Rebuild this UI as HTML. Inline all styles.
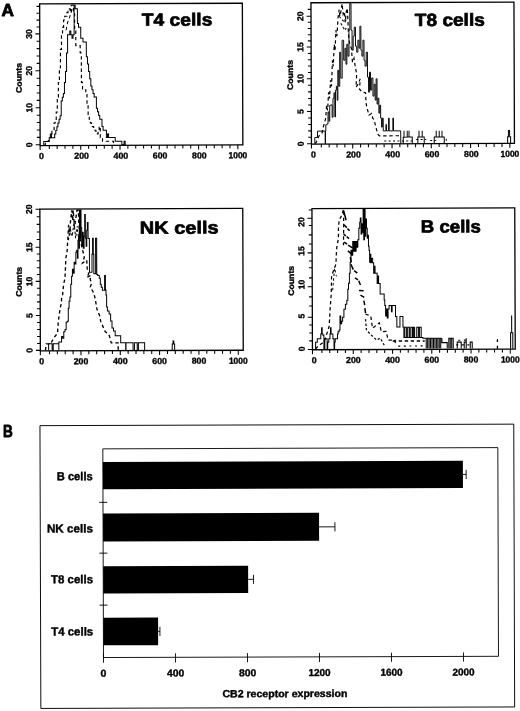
<!DOCTYPE html>
<html lang="en">
<head>
<meta charset="utf-8">
<title>CB2 receptor expression in lymphocyte subsets</title>
<style>
html,body{margin:0;padding:0;background:#fff;}
body{width:520px;height:711px;overflow:hidden;}
svg{display:block;}
</style>
</head>
<body>
<svg width="520" height="711" viewBox="0 0 520 711" font-family='"Liberation Sans", "DejaVu Sans", sans-serif' fill="#000" stroke="#000">
<rect x="0" y="0" width="520" height="711" fill="#fff" stroke="none"/>
<text stroke="#000" stroke-width="0.8" stroke-linejoin="round" x="1.4" y="15.6" font-size="17.2" text-anchor="start" font-weight="bold">A</text>
<text stroke="#000" stroke-width="0.8" stroke-linejoin="round" x="3" y="437" font-size="16.6" text-anchor="start" font-weight="bold" textLength="9.8" lengthAdjust="spacingAndGlyphs">B</text>
<g transform="rotate(-0.2 141 74)">
<rect x="39.9" y="3.6" width="202.7" height="141.6" fill="none" stroke-width="1.3"/>
<line x1="39.9" y1="145.2" x2="39.9" y2="149.6" stroke-width="1.05"/>
<line x1="49.06" y1="145.2" x2="49.06" y2="148.6" stroke-width="1.05"/>
<line x1="56.91" y1="145.2" x2="56.91" y2="148.6" stroke-width="1.05"/>
<line x1="64.77" y1="145.2" x2="64.77" y2="148.6" stroke-width="1.05"/>
<line x1="72.62" y1="145.2" x2="72.62" y2="148.6" stroke-width="1.05"/>
<line x1="80.48" y1="145.2" x2="80.48" y2="149.6" stroke-width="1.05"/>
<line x1="88.34" y1="145.2" x2="88.34" y2="148.6" stroke-width="1.05"/>
<line x1="96.19" y1="145.2" x2="96.19" y2="148.6" stroke-width="1.05"/>
<line x1="104.05" y1="145.2" x2="104.05" y2="148.6" stroke-width="1.05"/>
<line x1="111.9" y1="145.2" x2="111.9" y2="148.6" stroke-width="1.05"/>
<line x1="119.76" y1="145.2" x2="119.76" y2="149.6" stroke-width="1.05"/>
<line x1="127.62" y1="145.2" x2="127.62" y2="148.6" stroke-width="1.05"/>
<line x1="135.47" y1="145.2" x2="135.47" y2="148.6" stroke-width="1.05"/>
<line x1="143.33" y1="145.2" x2="143.33" y2="148.6" stroke-width="1.05"/>
<line x1="151.18" y1="145.2" x2="151.18" y2="148.6" stroke-width="1.05"/>
<line x1="159.04" y1="145.2" x2="159.04" y2="149.6" stroke-width="1.05"/>
<line x1="166.9" y1="145.2" x2="166.9" y2="148.6" stroke-width="1.05"/>
<line x1="174.75" y1="145.2" x2="174.75" y2="148.6" stroke-width="1.05"/>
<line x1="182.61" y1="145.2" x2="182.61" y2="148.6" stroke-width="1.05"/>
<line x1="190.46" y1="145.2" x2="190.46" y2="148.6" stroke-width="1.05"/>
<line x1="198.32" y1="145.2" x2="198.32" y2="149.6" stroke-width="1.05"/>
<line x1="206.18" y1="145.2" x2="206.18" y2="148.6" stroke-width="1.05"/>
<line x1="214.03" y1="145.2" x2="214.03" y2="148.6" stroke-width="1.05"/>
<line x1="221.89" y1="145.2" x2="221.89" y2="148.6" stroke-width="1.05"/>
<line x1="229.74" y1="145.2" x2="229.74" y2="148.6" stroke-width="1.05"/>
<line x1="237.6" y1="145.2" x2="237.6" y2="149.6" stroke-width="1.05"/>
<text stroke="#000" stroke-width="0.35" stroke-linejoin="round" x="41.2" y="158.6" font-size="8.7" text-anchor="middle" font-weight="bold" textLength="4.9" lengthAdjust="spacingAndGlyphs">0</text>
<text stroke="#000" stroke-width="0.35" stroke-linejoin="round" x="81.28" y="158.6" font-size="8.7" text-anchor="middle" font-weight="bold" textLength="14.6" lengthAdjust="spacingAndGlyphs">200</text>
<text stroke="#000" stroke-width="0.35" stroke-linejoin="round" x="120.56" y="158.6" font-size="8.7" text-anchor="middle" font-weight="bold" textLength="14.8" lengthAdjust="spacingAndGlyphs">400</text>
<text stroke="#000" stroke-width="0.35" stroke-linejoin="round" x="159.84" y="158.6" font-size="8.7" text-anchor="middle" font-weight="bold" textLength="14.6" lengthAdjust="spacingAndGlyphs">600</text>
<text stroke="#000" stroke-width="0.35" stroke-linejoin="round" x="199.12" y="158.6" font-size="8.7" text-anchor="middle" font-weight="bold" textLength="14.6" lengthAdjust="spacingAndGlyphs">800</text>
<text stroke="#000" stroke-width="0.35" stroke-linejoin="round" x="237.6" y="158.6" font-size="8.7" text-anchor="middle" font-weight="bold" textLength="18.8" lengthAdjust="spacingAndGlyphs">1000</text>
<line x1="35.5" y1="144.4" x2="39.9" y2="144.4" stroke-width="1.05"/>
<text stroke="#000" stroke-width="0.35" stroke-linejoin="round" x="32.1" y="144.4" font-size="8.6" text-anchor="middle" font-weight="bold" transform="rotate(-90 32.1 144.4)">0</text>
<line x1="36.7" y1="137" x2="39.9" y2="137" stroke-width="1.05"/>
<line x1="36.7" y1="129.6" x2="39.9" y2="129.6" stroke-width="1.05"/>
<line x1="36.7" y1="122.2" x2="39.9" y2="122.2" stroke-width="1.05"/>
<line x1="36.7" y1="114.8" x2="39.9" y2="114.8" stroke-width="1.05"/>
<line x1="35.5" y1="107.4" x2="39.9" y2="107.4" stroke-width="1.05"/>
<text stroke="#000" stroke-width="0.35" stroke-linejoin="round" x="32.1" y="107.4" font-size="8.6" text-anchor="middle" font-weight="bold" transform="rotate(-90 32.1 107.4)">10</text>
<line x1="36.7" y1="100" x2="39.9" y2="100" stroke-width="1.05"/>
<line x1="36.7" y1="92.6" x2="39.9" y2="92.6" stroke-width="1.05"/>
<line x1="36.7" y1="85.2" x2="39.9" y2="85.2" stroke-width="1.05"/>
<line x1="36.7" y1="77.8" x2="39.9" y2="77.8" stroke-width="1.05"/>
<line x1="35.5" y1="70.4" x2="39.9" y2="70.4" stroke-width="1.05"/>
<text stroke="#000" stroke-width="0.35" stroke-linejoin="round" x="32.1" y="70.4" font-size="8.6" text-anchor="middle" font-weight="bold" transform="rotate(-90 32.1 70.4)">20</text>
<line x1="36.7" y1="63.02" x2="39.9" y2="63.02" stroke-width="1.05"/>
<line x1="36.7" y1="55.64" x2="39.9" y2="55.64" stroke-width="1.05"/>
<line x1="36.7" y1="48.26" x2="39.9" y2="48.26" stroke-width="1.05"/>
<line x1="36.7" y1="40.88" x2="39.9" y2="40.88" stroke-width="1.05"/>
<line x1="35.5" y1="33.5" x2="39.9" y2="33.5" stroke-width="1.05"/>
<text stroke="#000" stroke-width="0.35" stroke-linejoin="round" x="32.1" y="33.5" font-size="8.6" text-anchor="middle" font-weight="bold" transform="rotate(-90 32.1 33.5)">30</text>
<line x1="36.7" y1="26.62" x2="39.9" y2="26.62" stroke-width="1.05"/>
<line x1="36.7" y1="19.75" x2="39.9" y2="19.75" stroke-width="1.05"/>
<line x1="36.7" y1="12.88" x2="39.9" y2="12.88" stroke-width="1.05"/>
<line x1="36.7" y1="6" x2="39.9" y2="6" stroke-width="1.05"/>
<text stroke="#000" stroke-width="0.4" stroke-linejoin="round" x="21.6" y="77.5" font-size="8.1" text-anchor="middle" font-weight="bold" textLength="30" lengthAdjust="spacingAndGlyphs" transform="rotate(-90 21.6 77.5)">Counts</text>
<text stroke="#000" stroke-width="0.7" stroke-linejoin="round" x="142" y="25.8" font-size="17.6" text-anchor="start" font-weight="bold" textLength="70.5" lengthAdjust="spacingAndGlyphs">T4 cells</text>
<path d="M43.5 144.8V141.12H44.6V141.12H45.7V141.12H46.8V141.12H47.9V141.12H49V137.44H50.1V133.76H51.2V137.44H52.3V137.44H53.4V137.44H54.5V133.76H55.6V130.08H56.7V126.4H57.8V122.72H58.9V119.04H60V115.36H61.1V100.64H62.2V96.96H63.3V93.28H64.4V82.24H65.5V71.2H66.6V52.8H67.7V34.4H68.8V34.4H69.9V30.72H71V34.4H72.1V38.08H73.2V34.4H74.3V4.96H75.4V8.64H76.5V8.64H77.6V23.36H78.7V27.04H79.8V27.04H80.9V38.08H82V38.08H83.1V41.76H84.2V41.76H85.3V41.76H86.4V56.48H87.5V63.84H88.6V71.2H89.7V78.56H90.8V85.92H91.9V89.6H93V93.28H94.1V96.96H95.2V96.96H96.3V108H97.4V111.68H98.5V115.36H99.6V119.04H100.7V119.04H101.8V126.4H102.9V130.08H104V130.08H105.1V130.08H106.2V137.44H107.3V133.76H108.4V137.44H109.5V137.44H110.6V137.44H111.7V137.44H112.8V137.44H113.9V137.44H115V141.12H116.1V141.12H117.2V141.12H118.3V141.12H119.4V141.12H120.5V141.12H121.6V144.8H122.7V144.8H123.8V141.12H124.9V144.8H125.6V144.8" fill="none" stroke-width="1"/>
<path d="M44 144.8V144.8H45.1V141.12H46.2V141.12H47.3V141.12H48.4V137.44H49.5V137.44H50.6V133.76H51.7V130.08H52.8V130.08H53.9V122.72H55V119.04H56.1V111.68H57.2V96.96H58.3V82.24H59.4V67.52H60.5V49.12H61.6V34.4H62.7V27.04H63.8V19.68H64.9V16H66V16H67.1V12.32H68.2V8.64H69.3V8.64H70.4V12.32H71.5V4.96H72.6V4.96H73.7V12.32H74.8V30.72H75.9V45.44H77V45.44H78.1V45.44H79.2V45.44H80.3V52.8H81.4V82.24H82.5V89.6H83.6V89.6H84.7V89.6H85.8V93.28H86.9V104.32H88V115.36H89.1V119.04H90.2V122.72H91.3V126.4H92.4V126.4H93.5V130.08H94.6V130.08H95.7V133.76H96.8V133.76H97.9V130.08H99V126.4H100.1V137.44H101.2V137.44H102.3V141.12H103.4V141.12H104.5V141.12H105.6V141.12H106.7V141.12H107.8V141.12H108.9V141.12H110V141.12H111.1V141.12H112.2V141.12H113.3V144.8H114.4V144.8H114.4V144.8" fill="none" stroke-width="1.15" stroke-dasharray="3.4 2.8"/>
<path d="M66.2 30L67.7 22.5L70.3 15.6L72.9 7" fill="none" stroke-width="1" stroke-dasharray="3.4 2.8"/>
</g>
<g transform="rotate(-0.2 412 73)">
<rect x="311.2" y="2.4" width="203" height="141.4" fill="none" stroke-width="1.3"/>
<line x1="311.2" y1="143.8" x2="311.2" y2="148.2" stroke-width="1.05"/>
<line x1="321.06" y1="143.8" x2="321.06" y2="147.2" stroke-width="1.05"/>
<line x1="328.91" y1="143.8" x2="328.91" y2="147.2" stroke-width="1.05"/>
<line x1="336.77" y1="143.8" x2="336.77" y2="147.2" stroke-width="1.05"/>
<line x1="344.62" y1="143.8" x2="344.62" y2="147.2" stroke-width="1.05"/>
<line x1="352.48" y1="143.8" x2="352.48" y2="148.2" stroke-width="1.05"/>
<line x1="360.34" y1="143.8" x2="360.34" y2="147.2" stroke-width="1.05"/>
<line x1="368.19" y1="143.8" x2="368.19" y2="147.2" stroke-width="1.05"/>
<line x1="376.05" y1="143.8" x2="376.05" y2="147.2" stroke-width="1.05"/>
<line x1="383.9" y1="143.8" x2="383.9" y2="147.2" stroke-width="1.05"/>
<line x1="391.76" y1="143.8" x2="391.76" y2="148.2" stroke-width="1.05"/>
<line x1="399.62" y1="143.8" x2="399.62" y2="147.2" stroke-width="1.05"/>
<line x1="407.47" y1="143.8" x2="407.47" y2="147.2" stroke-width="1.05"/>
<line x1="415.33" y1="143.8" x2="415.33" y2="147.2" stroke-width="1.05"/>
<line x1="423.18" y1="143.8" x2="423.18" y2="147.2" stroke-width="1.05"/>
<line x1="431.04" y1="143.8" x2="431.04" y2="148.2" stroke-width="1.05"/>
<line x1="438.9" y1="143.8" x2="438.9" y2="147.2" stroke-width="1.05"/>
<line x1="446.75" y1="143.8" x2="446.75" y2="147.2" stroke-width="1.05"/>
<line x1="454.61" y1="143.8" x2="454.61" y2="147.2" stroke-width="1.05"/>
<line x1="462.46" y1="143.8" x2="462.46" y2="147.2" stroke-width="1.05"/>
<line x1="470.32" y1="143.8" x2="470.32" y2="148.2" stroke-width="1.05"/>
<line x1="478.18" y1="143.8" x2="478.18" y2="147.2" stroke-width="1.05"/>
<line x1="486.03" y1="143.8" x2="486.03" y2="147.2" stroke-width="1.05"/>
<line x1="493.89" y1="143.8" x2="493.89" y2="147.2" stroke-width="1.05"/>
<line x1="501.74" y1="143.8" x2="501.74" y2="147.2" stroke-width="1.05"/>
<line x1="509.6" y1="143.8" x2="509.6" y2="148.2" stroke-width="1.05"/>
<text stroke="#000" stroke-width="0.35" stroke-linejoin="round" x="313.2" y="157.2" font-size="8.7" text-anchor="middle" font-weight="bold" textLength="4.9" lengthAdjust="spacingAndGlyphs">0</text>
<text stroke="#000" stroke-width="0.35" stroke-linejoin="round" x="353.18" y="157.2" font-size="8.7" text-anchor="middle" font-weight="bold" textLength="14.6" lengthAdjust="spacingAndGlyphs">200</text>
<text stroke="#000" stroke-width="0.35" stroke-linejoin="round" x="392.46" y="157.2" font-size="8.7" text-anchor="middle" font-weight="bold" textLength="14.8" lengthAdjust="spacingAndGlyphs">400</text>
<text stroke="#000" stroke-width="0.35" stroke-linejoin="round" x="431.74" y="157.2" font-size="8.7" text-anchor="middle" font-weight="bold" textLength="14.6" lengthAdjust="spacingAndGlyphs">600</text>
<text stroke="#000" stroke-width="0.35" stroke-linejoin="round" x="471.02" y="157.2" font-size="8.7" text-anchor="middle" font-weight="bold" textLength="14.6" lengthAdjust="spacingAndGlyphs">800</text>
<text stroke="#000" stroke-width="0.35" stroke-linejoin="round" x="509.6" y="157.2" font-size="8.7" text-anchor="middle" font-weight="bold" textLength="18.8" lengthAdjust="spacingAndGlyphs">1000</text>
<line x1="306.8" y1="143.4" x2="311.2" y2="143.4" stroke-width="1.05"/>
<text stroke="#000" stroke-width="0.35" stroke-linejoin="round" x="303.4" y="143.4" font-size="8.6" text-anchor="middle" font-weight="bold" transform="rotate(-90 303.4 143.4)">0</text>
<line x1="308" y1="136.96" x2="311.2" y2="136.96" stroke-width="1.05"/>
<line x1="308" y1="130.52" x2="311.2" y2="130.52" stroke-width="1.05"/>
<line x1="308" y1="124.08" x2="311.2" y2="124.08" stroke-width="1.05"/>
<line x1="308" y1="117.64" x2="311.2" y2="117.64" stroke-width="1.05"/>
<line x1="306.8" y1="111.2" x2="311.2" y2="111.2" stroke-width="1.05"/>
<text stroke="#000" stroke-width="0.35" stroke-linejoin="round" x="303.4" y="111.2" font-size="8.6" text-anchor="middle" font-weight="bold" transform="rotate(-90 303.4 111.2)">5</text>
<line x1="308" y1="104.64" x2="311.2" y2="104.64" stroke-width="1.05"/>
<line x1="308" y1="98.08" x2="311.2" y2="98.08" stroke-width="1.05"/>
<line x1="308" y1="91.52" x2="311.2" y2="91.52" stroke-width="1.05"/>
<line x1="308" y1="84.96" x2="311.2" y2="84.96" stroke-width="1.05"/>
<line x1="306.8" y1="78.4" x2="311.2" y2="78.4" stroke-width="1.05"/>
<text stroke="#000" stroke-width="0.35" stroke-linejoin="round" x="303.4" y="78.4" font-size="8.6" text-anchor="middle" font-weight="bold" transform="rotate(-90 303.4 78.4)">10</text>
<line x1="308" y1="72.06" x2="311.2" y2="72.06" stroke-width="1.05"/>
<line x1="308" y1="65.72" x2="311.2" y2="65.72" stroke-width="1.05"/>
<line x1="308" y1="59.38" x2="311.2" y2="59.38" stroke-width="1.05"/>
<line x1="308" y1="53.04" x2="311.2" y2="53.04" stroke-width="1.05"/>
<line x1="306.8" y1="46.7" x2="311.2" y2="46.7" stroke-width="1.05"/>
<text stroke="#000" stroke-width="0.35" stroke-linejoin="round" x="303.4" y="46.7" font-size="8.6" text-anchor="middle" font-weight="bold" transform="rotate(-90 303.4 46.7)">15</text>
<line x1="308" y1="40.52" x2="311.2" y2="40.52" stroke-width="1.05"/>
<line x1="308" y1="34.34" x2="311.2" y2="34.34" stroke-width="1.05"/>
<line x1="308" y1="28.16" x2="311.2" y2="28.16" stroke-width="1.05"/>
<line x1="308" y1="21.98" x2="311.2" y2="21.98" stroke-width="1.05"/>
<line x1="306.8" y1="15.8" x2="311.2" y2="15.8" stroke-width="1.05"/>
<text stroke="#000" stroke-width="0.35" stroke-linejoin="round" x="303.4" y="15.8" font-size="8.6" text-anchor="middle" font-weight="bold" transform="rotate(-90 303.4 15.8)">20</text>
<line x1="308" y1="9" x2="311.2" y2="9" stroke-width="1.05"/>
<text stroke="#000" stroke-width="0.4" stroke-linejoin="round" x="292.9" y="74.6" font-size="8.1" text-anchor="middle" font-weight="bold" textLength="30" lengthAdjust="spacingAndGlyphs" transform="rotate(-90 292.9 74.6)">Counts</text>
<text stroke="#000" stroke-width="0.7" stroke-linejoin="round" x="415" y="26" font-size="17.6" text-anchor="start" font-weight="bold" textLength="70" lengthAdjust="spacingAndGlyphs">T8 cells</text>
<path d="M314.6 143.5V137.1H317.3V130.8H325.1V143.5V130.8H325.65V124.4H326.2H326.75V123.6H327.3H327.85V111.6H328.4H328.8V121H329.2H329.6V105H330H330.8V104.6H331.6H332V117H332.4H332.9V98H333.4H333.9V92.5H334.4H334.7V116.7H335H335.4V90H335.8H336.3V86H336.8H337.1V100H337.4H337.8V70H338.2H338.7V86H339.2H339.7V52H340.2H340.8V78H341.4H342.2V40H343H343.75V60H344.5H345.05V48H345.6H346V64H346.4H346.9V44H347.4H348V56H348.6H349.1V30H349.6H350V3.4H350.4H350.9H351.25V30H351.6H352.2V50H352.8H353.3V36H353.8H354.4V27H355H355.6V46H356.2H356.8V52H357.4H358V40H358.6H359.1V48H359.6H360.05V26H360.5H361V50H361.5H362V56H362.5H363.05V40H363.6H364.1V60H364.6H365.1V66H365.6H366.3V52H367H367.5V77H368H368.5V92H369H369.5V72H370H370.5V90H371H371.65V77.8H372.3H372.9V96H373.5H374.05V84H374.6H375.1V100H375.6H376.1V78.6H376.6H377V104H377.4H377.85V98H378.3H378.75V113H379.2H379.6V105H380H380.5V118H381H381.4V127H381.8H382.2V118H382.6H383.05V130.8H383.5H385.5H385.75V124.4H386H386.3V130.8H386.6H388.2H388.45V118H388.7H389V130.8H389.3H392.4H392.7V118H393H393.3V130.8H393.6H400.5V143.5" fill="none" stroke-width="0.95"/>
<path d="M315.2 143.5L318.7 135.7L322 132.3L323 127L324 124L325.5 118L326.5 105L327.5 110L328.5 92L329.5 98L330.5 80L331.5 86L332.5 60L333.3 66L334.3 44L335.2 50L336 30L337 36L338.3 17.3L339.4 9.2L340 16L341 12L342.3 3.5L343.4 14L344.6 11.5L345.4 22L346.4 12L347.5 8L348 17.3L348.6 34.6L349.8 43.8L351.5 48.4L352.5 62L354 58L355.5 68L356.7 73.5L356 87L358 84L360.2 78.7L359.5 89L362 92L365.4 92.5L365.8 100L366.2 104.6L367.5 110L368.8 115L371.4 113.3L372.6 118L374 120L375.7 127L377.5 134L379.2 135.7L400 135.7" fill="none" stroke-width="1.2" stroke-dasharray="3.4 2.8"/>
<path d="M339.4 16L342 19L344.6 22L346.4 19.5L348 17.3" fill="none" stroke-width="1.05" stroke-dasharray="2.4 2"/>
<path d="M341 23L343.2 27L345.2 30L346.3 27.7" fill="none" stroke-width="1.05" stroke-dasharray="2.4 2"/>
<path d="M403 143.5V137.1H403.8V130.8V137.1H407V130.8V137.1H408.8V130.8V137.1H412V143.5M417.6 143.5V137.1H418.8V130.8V137.1H422V130.8V137.1H424V143.5M434 143.5V137.1H436V130.8V137.1H439V130.8V137.1H441.8V130.8V137.1H444V143.5M507.4 143.5V137.1H508.2V130.8H509.4V137.1H510.4V143.5" fill="none" stroke-width="1"/>
<path d="M384 141H412M416 139.5H426M430 140.5H436M446 138.8V143" fill="none" stroke-width="1" stroke-dasharray="2 2.4"/>
</g>
<g transform="rotate(-0.2 141 280)">
<rect x="40.1" y="208.8" width="202.9" height="141.8" fill="none" stroke-width="1.3"/>
<line x1="40.1" y1="350.6" x2="40.1" y2="355" stroke-width="1.05"/>
<line x1="49.26" y1="350.6" x2="49.26" y2="354" stroke-width="1.05"/>
<line x1="57.13" y1="350.6" x2="57.13" y2="354" stroke-width="1.05"/>
<line x1="64.99" y1="350.6" x2="64.99" y2="354" stroke-width="1.05"/>
<line x1="72.86" y1="350.6" x2="72.86" y2="354" stroke-width="1.05"/>
<line x1="80.72" y1="350.6" x2="80.72" y2="355" stroke-width="1.05"/>
<line x1="88.58" y1="350.6" x2="88.58" y2="354" stroke-width="1.05"/>
<line x1="96.45" y1="350.6" x2="96.45" y2="354" stroke-width="1.05"/>
<line x1="104.31" y1="350.6" x2="104.31" y2="354" stroke-width="1.05"/>
<line x1="112.18" y1="350.6" x2="112.18" y2="354" stroke-width="1.05"/>
<line x1="120.04" y1="350.6" x2="120.04" y2="355" stroke-width="1.05"/>
<line x1="127.9" y1="350.6" x2="127.9" y2="354" stroke-width="1.05"/>
<line x1="135.77" y1="350.6" x2="135.77" y2="354" stroke-width="1.05"/>
<line x1="143.63" y1="350.6" x2="143.63" y2="354" stroke-width="1.05"/>
<line x1="151.5" y1="350.6" x2="151.5" y2="354" stroke-width="1.05"/>
<line x1="159.36" y1="350.6" x2="159.36" y2="355" stroke-width="1.05"/>
<line x1="167.22" y1="350.6" x2="167.22" y2="354" stroke-width="1.05"/>
<line x1="175.09" y1="350.6" x2="175.09" y2="354" stroke-width="1.05"/>
<line x1="182.95" y1="350.6" x2="182.95" y2="354" stroke-width="1.05"/>
<line x1="190.82" y1="350.6" x2="190.82" y2="354" stroke-width="1.05"/>
<line x1="198.68" y1="350.6" x2="198.68" y2="355" stroke-width="1.05"/>
<line x1="206.54" y1="350.6" x2="206.54" y2="354" stroke-width="1.05"/>
<line x1="214.41" y1="350.6" x2="214.41" y2="354" stroke-width="1.05"/>
<line x1="222.27" y1="350.6" x2="222.27" y2="354" stroke-width="1.05"/>
<line x1="230.14" y1="350.6" x2="230.14" y2="354" stroke-width="1.05"/>
<line x1="238" y1="350.6" x2="238" y2="355" stroke-width="1.05"/>
<text stroke="#000" stroke-width="0.35" stroke-linejoin="round" x="41.4" y="364" font-size="8.7" text-anchor="middle" font-weight="bold" textLength="4.9" lengthAdjust="spacingAndGlyphs">0</text>
<text stroke="#000" stroke-width="0.35" stroke-linejoin="round" x="80.72" y="364" font-size="8.7" text-anchor="middle" font-weight="bold" textLength="14.6" lengthAdjust="spacingAndGlyphs">200</text>
<text stroke="#000" stroke-width="0.35" stroke-linejoin="round" x="120.04" y="364" font-size="8.7" text-anchor="middle" font-weight="bold" textLength="14.8" lengthAdjust="spacingAndGlyphs">400</text>
<text stroke="#000" stroke-width="0.35" stroke-linejoin="round" x="159.36" y="364" font-size="8.7" text-anchor="middle" font-weight="bold" textLength="14.6" lengthAdjust="spacingAndGlyphs">600</text>
<text stroke="#000" stroke-width="0.35" stroke-linejoin="round" x="198.68" y="364" font-size="8.7" text-anchor="middle" font-weight="bold" textLength="14.6" lengthAdjust="spacingAndGlyphs">800</text>
<text stroke="#000" stroke-width="0.35" stroke-linejoin="round" x="238" y="364" font-size="8.7" text-anchor="middle" font-weight="bold" textLength="18.8" lengthAdjust="spacingAndGlyphs">1000</text>
<line x1="35.7" y1="350" x2="40.1" y2="350" stroke-width="1.05"/>
<text stroke="#000" stroke-width="0.35" stroke-linejoin="round" x="32.3" y="350" font-size="8.6" text-anchor="middle" font-weight="bold" transform="rotate(-90 32.3 350)">0</text>
<line x1="36.9" y1="343.04" x2="40.1" y2="343.04" stroke-width="1.05"/>
<line x1="36.9" y1="336.08" x2="40.1" y2="336.08" stroke-width="1.05"/>
<line x1="36.9" y1="329.12" x2="40.1" y2="329.12" stroke-width="1.05"/>
<line x1="36.9" y1="322.16" x2="40.1" y2="322.16" stroke-width="1.05"/>
<line x1="35.7" y1="315.2" x2="40.1" y2="315.2" stroke-width="1.05"/>
<text stroke="#000" stroke-width="0.35" stroke-linejoin="round" x="32.3" y="315.2" font-size="8.6" text-anchor="middle" font-weight="bold" transform="rotate(-90 32.3 315.2)">5</text>
<line x1="36.9" y1="308.36" x2="40.1" y2="308.36" stroke-width="1.05"/>
<line x1="36.9" y1="301.52" x2="40.1" y2="301.52" stroke-width="1.05"/>
<line x1="36.9" y1="294.68" x2="40.1" y2="294.68" stroke-width="1.05"/>
<line x1="36.9" y1="287.84" x2="40.1" y2="287.84" stroke-width="1.05"/>
<line x1="35.7" y1="281" x2="40.1" y2="281" stroke-width="1.05"/>
<text stroke="#000" stroke-width="0.35" stroke-linejoin="round" x="32.3" y="281" font-size="8.6" text-anchor="middle" font-weight="bold" transform="rotate(-90 32.3 281)">10</text>
<line x1="36.9" y1="274.16" x2="40.1" y2="274.16" stroke-width="1.05"/>
<line x1="36.9" y1="267.32" x2="40.1" y2="267.32" stroke-width="1.05"/>
<line x1="36.9" y1="260.48" x2="40.1" y2="260.48" stroke-width="1.05"/>
<line x1="36.9" y1="253.64" x2="40.1" y2="253.64" stroke-width="1.05"/>
<line x1="35.7" y1="246.8" x2="40.1" y2="246.8" stroke-width="1.05"/>
<text stroke="#000" stroke-width="0.35" stroke-linejoin="round" x="32.3" y="246.8" font-size="8.6" text-anchor="middle" font-weight="bold" transform="rotate(-90 32.3 246.8)">15</text>
<line x1="36.9" y1="239.2" x2="40.1" y2="239.2" stroke-width="1.05"/>
<line x1="36.9" y1="231.6" x2="40.1" y2="231.6" stroke-width="1.05"/>
<line x1="36.9" y1="224" x2="40.1" y2="224" stroke-width="1.05"/>
<line x1="36.9" y1="216.4" x2="40.1" y2="216.4" stroke-width="1.05"/>
<line x1="35.7" y1="208.8" x2="40.1" y2="208.8" stroke-width="1.05"/>
<text stroke="#000" stroke-width="0.35" stroke-linejoin="round" x="32.3" y="208.8" font-size="8.6" text-anchor="middle" font-weight="bold" transform="rotate(-90 32.3 208.8)">20</text>
<text stroke="#000" stroke-width="0.4" stroke-linejoin="round" x="21.8" y="281.4" font-size="8.1" text-anchor="middle" font-weight="bold" textLength="30" lengthAdjust="spacingAndGlyphs" transform="rotate(-90 21.8 281.4)">Counts</text>
<text stroke="#000" stroke-width="0.7" stroke-linejoin="round" x="140" y="233.8" font-size="17.6" text-anchor="start" font-weight="bold" textLength="78.8" lengthAdjust="spacingAndGlyphs">NK cells</text>
<path d="M48.4 350V343.4H51.9V350H53V343.4H58.6V350V341.7H60.8H61.4V336.2H62H62.5V338H63H63.6V331.4H64.2H64.85V329.3H65.5H66V322H66.5H67.1V321H67.7H68.15V308H68.6H69V301H69.4H69.85V296.8H70.3H70.75V284H71.2H71.6V276H72H72.45V269H72.9H73.35V273H73.8H74.2V262H74.6H75.05V263.8H75.5H75.95V252H76.4H76.8V250H77.2H77.5V258H77.8H78.1V240H78.4H78.7V236H79H79.2V248H79.4H79.6V209.8H79.8H80.1V238H80.4H80.7V209.8H81H81.25V227.5H81.5H81.85V246H82.2H82.6V232H83H83.4V248H83.8H84.2V236H84.6H84.9V214.2H85.2H85.55V238H85.9H86.25V246H86.6H86.9V230H87.2H87.55V222.3H87.9H88.25V238.4H88.6H89.5V272H91.5H92.05V254H92.6H92.7V238H92.8H93.4V254H93.9V273.5H94.4H95.7V238H96.8V274.4H97.8V275.4H98.8H99.3V278H99.8H100.3V284H100.8H101.25V287H101.7H102.35V290H103H104.6V275.4H105.4V290H105.95V295H106.5H106.55V307H106.6H107.3V311H108H109V314H110H110.5V321H111H111.85V328H112.7H113.35V331H114H115V335.7H116H120.4H120.5V342.8H120.6H125.3H125.45V350H125.6H125.75V342.8H125.9H132.7H132.85V350H133" fill="none" stroke-width="1"/>
<path d="M45.2 350L46 343.5L50.4 343.5L53.8 337.4L57.3 333L58.2 321L59.9 309L61 304L61.6 298L62.5 295L63.6 284L65 278L66 257L67.1 253L67.7 243L68.8 224.6L70 235L70.6 222L72 210L72.9 220.6L73.5 210L74.6 227.5L75.8 220L77.2 210L78.6 210L79 222L79.8 236L80.6 240.8L82.5 249L84.4 257.1L82.5 262.9L86.8 260L87.3 268.7L88.75 273.5L86.8 277.3L90.7 275.4L90.2 279.2L91.6 283.1L90.2 286.9L92.6 290.8L94 293.7L95.4 300L96.6 308L98 312.3L99.4 315L100.5 321L102.6 326L104.9 331.4L107 333L109.2 335.7L111 342.8L117.9 342.8L118 350" fill="none" stroke-width="1.35" stroke-dasharray="3.4 2.8"/>
<path d="M68.6 240L70.2 228L72.4 236L74.2 222L75.8 238L77.4 226L78.8 240" fill="none" stroke-width="1.05" stroke-dasharray="2.4 2"/>
<path d="M134.2 350V342.8H137V350M138.2 350V342.8H144.4V350M172 350V344H172.8V341H173.6V344H174.4V350" fill="none" stroke-width="1"/>
</g>
<g transform="rotate(-0.2 413 279)">
<rect x="312.2" y="208.2" width="202.8" height="141.2" fill="none" stroke-width="1.3"/>
<line x1="312.2" y1="349.4" x2="312.2" y2="353.8" stroke-width="1.05"/>
<line x1="321.65" y1="349.4" x2="321.65" y2="352.8" stroke-width="1.05"/>
<line x1="329.5" y1="349.4" x2="329.5" y2="352.8" stroke-width="1.05"/>
<line x1="337.34" y1="349.4" x2="337.34" y2="352.8" stroke-width="1.05"/>
<line x1="345.19" y1="349.4" x2="345.19" y2="352.8" stroke-width="1.05"/>
<line x1="353.04" y1="349.4" x2="353.04" y2="353.8" stroke-width="1.05"/>
<line x1="360.89" y1="349.4" x2="360.89" y2="352.8" stroke-width="1.05"/>
<line x1="368.74" y1="349.4" x2="368.74" y2="352.8" stroke-width="1.05"/>
<line x1="376.58" y1="349.4" x2="376.58" y2="352.8" stroke-width="1.05"/>
<line x1="384.43" y1="349.4" x2="384.43" y2="352.8" stroke-width="1.05"/>
<line x1="392.28" y1="349.4" x2="392.28" y2="353.8" stroke-width="1.05"/>
<line x1="400.13" y1="349.4" x2="400.13" y2="352.8" stroke-width="1.05"/>
<line x1="407.98" y1="349.4" x2="407.98" y2="352.8" stroke-width="1.05"/>
<line x1="415.82" y1="349.4" x2="415.82" y2="352.8" stroke-width="1.05"/>
<line x1="423.67" y1="349.4" x2="423.67" y2="352.8" stroke-width="1.05"/>
<line x1="431.52" y1="349.4" x2="431.52" y2="353.8" stroke-width="1.05"/>
<line x1="439.37" y1="349.4" x2="439.37" y2="352.8" stroke-width="1.05"/>
<line x1="447.22" y1="349.4" x2="447.22" y2="352.8" stroke-width="1.05"/>
<line x1="455.06" y1="349.4" x2="455.06" y2="352.8" stroke-width="1.05"/>
<line x1="462.91" y1="349.4" x2="462.91" y2="352.8" stroke-width="1.05"/>
<line x1="470.76" y1="349.4" x2="470.76" y2="353.8" stroke-width="1.05"/>
<line x1="478.61" y1="349.4" x2="478.61" y2="352.8" stroke-width="1.05"/>
<line x1="486.46" y1="349.4" x2="486.46" y2="352.8" stroke-width="1.05"/>
<line x1="494.3" y1="349.4" x2="494.3" y2="352.8" stroke-width="1.05"/>
<line x1="502.15" y1="349.4" x2="502.15" y2="352.8" stroke-width="1.05"/>
<line x1="510" y1="349.4" x2="510" y2="353.8" stroke-width="1.05"/>
<text stroke="#000" stroke-width="0.35" stroke-linejoin="round" x="313.8" y="362.8" font-size="8.7" text-anchor="middle" font-weight="bold" textLength="4.9" lengthAdjust="spacingAndGlyphs">0</text>
<text stroke="#000" stroke-width="0.35" stroke-linejoin="round" x="353.04" y="362.8" font-size="8.7" text-anchor="middle" font-weight="bold" textLength="14.6" lengthAdjust="spacingAndGlyphs">200</text>
<text stroke="#000" stroke-width="0.35" stroke-linejoin="round" x="392.28" y="362.8" font-size="8.7" text-anchor="middle" font-weight="bold" textLength="14.8" lengthAdjust="spacingAndGlyphs">400</text>
<text stroke="#000" stroke-width="0.35" stroke-linejoin="round" x="431.52" y="362.8" font-size="8.7" text-anchor="middle" font-weight="bold" textLength="14.6" lengthAdjust="spacingAndGlyphs">600</text>
<text stroke="#000" stroke-width="0.35" stroke-linejoin="round" x="470.76" y="362.8" font-size="8.7" text-anchor="middle" font-weight="bold" textLength="14.6" lengthAdjust="spacingAndGlyphs">800</text>
<text stroke="#000" stroke-width="0.35" stroke-linejoin="round" x="510" y="362.8" font-size="8.7" text-anchor="middle" font-weight="bold" textLength="18.8" lengthAdjust="spacingAndGlyphs">1000</text>
<line x1="309" y1="209.6" x2="312.2" y2="209.6" stroke-width="1.05"/>
<line x1="307.6" y1="217.9" x2="312.2" y2="217.9" stroke-width="1.05"/>
<line x1="309" y1="225.2" x2="312.2" y2="225.2" stroke-width="1.05"/>
<line x1="309" y1="234.5" x2="312.2" y2="234.5" stroke-width="1.05"/>
<line x1="309" y1="243.6" x2="312.2" y2="243.6" stroke-width="1.05"/>
<line x1="307.6" y1="252.5" x2="312.2" y2="252.5" stroke-width="1.05"/>
<line x1="309" y1="260.6" x2="312.2" y2="260.6" stroke-width="1.05"/>
<line x1="309" y1="267.4" x2="312.2" y2="267.4" stroke-width="1.05"/>
<line x1="309" y1="277.5" x2="312.2" y2="277.5" stroke-width="1.05"/>
<line x1="307.6" y1="286.4" x2="312.2" y2="286.4" stroke-width="1.05"/>
<line x1="309" y1="296.5" x2="312.2" y2="296.5" stroke-width="1.05"/>
<line x1="309" y1="305.6" x2="312.2" y2="305.6" stroke-width="1.05"/>
<line x1="307.6" y1="316.8" x2="312.2" y2="316.8" stroke-width="1.05"/>
<line x1="309" y1="324.7" x2="312.2" y2="324.7" stroke-width="1.05"/>
<line x1="309" y1="332.6" x2="312.2" y2="332.6" stroke-width="1.05"/>
<line x1="309" y1="340.5" x2="312.2" y2="340.5" stroke-width="1.05"/>
<line x1="307.6" y1="349.2" x2="312.2" y2="349.2" stroke-width="1.05"/>
<text stroke="#000" stroke-width="0.35" stroke-linejoin="round" x="304.4" y="221.6" font-size="8.6" text-anchor="middle" font-weight="bold" transform="rotate(-90 304.4 221.6)">20</text>
<text stroke="#000" stroke-width="0.35" stroke-linejoin="round" x="304.4" y="250.5" font-size="8.6" text-anchor="middle" font-weight="bold" transform="rotate(-90 304.4 250.5)">15</text>
<text stroke="#000" stroke-width="0.35" stroke-linejoin="round" x="304.4" y="284.2" font-size="8.6" text-anchor="middle" font-weight="bold" transform="rotate(-90 304.4 284.2)">10</text>
<text stroke="#000" stroke-width="0.35" stroke-linejoin="round" x="304.4" y="315.8" font-size="8.6" text-anchor="middle" font-weight="bold" transform="rotate(-90 304.4 315.8)">5</text>
<text stroke="#000" stroke-width="0.35" stroke-linejoin="round" x="304.4" y="348.4" font-size="8.6" text-anchor="middle" font-weight="bold" transform="rotate(-90 304.4 348.4)">0</text>
<text stroke="#000" stroke-width="0.4" stroke-linejoin="round" x="293.9" y="280.4" font-size="8.1" text-anchor="middle" font-weight="bold" textLength="30" lengthAdjust="spacingAndGlyphs" transform="rotate(-90 293.9 280.4)">Counts</text>
<text stroke="#000" stroke-width="0.7" stroke-linejoin="round" x="421" y="232.6" font-size="17.6" text-anchor="start" font-weight="bold" textLength="60" lengthAdjust="spacingAndGlyphs">B cells</text>
<path d="M315.4 349V341.9H317.1V338.5H320.6V333.8H321.4V327.5H322V333.8H322.7V334.9H323.4H323.7V349H324H324.6V338.5H326.9V349H327.5V341.9H328.6V338.5H329.8V333.8H330.3V327.5H330.9V333.8H332.7V338.5H333.8V349H334.4V341.9H335V338.5H337.3V333.8H337.9V331.4H338.5H338.95V329.7H339.4H339.85V315.8H340.3H340.65V323.4H341H341.5V321H342H342.5V317H343H343.8V309H344.6H345.3V304H346H346.75V300H347.5H347.75V289H348H348.5V283H349H349.4V273H349.8H350.2V262H350.6H351.05V250H351.5H351.95V255H352.4H352.85V241.3H353.3H353.75V251H354.2H354.6V241.3H355H355.4V251H355.8H356.25V241.3H356.7H357.1V247H357.5H357.95V239.6H358.4H359V228H359.6H359.9V222H360.2H360.5V217.7H360.8H361.25V233.8H361.7H362.1V223.5H362.5H362.8V232H363.1H363.35V208.8H363.6H363.9V239.6H364.2H364.65V208.8H365.1H365.35V236H365.6H365.95V218.8H366.3H366.7V228H367.1H367.4V238H367.7H368V235H368.3H368.6V246H368.9H369.15V250H369.4H369.7V262H370H370.3V254H370.6H370.9V262.7H371.2H371.6V258H372H372.7V262.7H373.4H373.7V273H374H374.4V266H374.8H375.1V273H375.4H376.9H377.15V283.4H377.4H377.8V276H378.2H378.6V283.4H379H379.8H380.1V293.8H380.4H383.8H384.1V300H384.4H384.7V305.4H385H385.5V315.8H386H386.4V309H386.8H387.15V318H387.5H387.95V309H388.4H389V305.4H389.6H391H391.3V311.7H391.6H392V305.4H392.4H395.4V316.4H396.7V327H399.8V316.4H402.8V327H403.7V337.5H422.7V338.4H441.7" fill="none" stroke-width="1"/>
<path d="M315.2 348.6L318.7 345L323.8 341.7L327.3 331.4L329 326L329.9 310.6L331.2 293.3L331.6 276L333.4 270.7L336 263.8L336.5 252.3L337.1 245.4L338.6 238.4L338.6 228L339.4 220L342.3 214.2L343.7 209L343.9 222L343.6 245" fill="none" stroke-width="1.25" stroke-dasharray="3.4 2.8"/>
<path d="M365.4 314L370.6 315.8L372.3 328L375 326L379.2 322.7L381 331.4L386 331.4L387.9 340L394.8 340L395.5 346" fill="none" stroke-width="1.25" stroke-dasharray="3.4 2.8"/>
<path d="M343.9 210.5L346.3 220M344.2 224.6L347 227.4M347.6 228.4L349.8 230.6M343.7 233.8L346 235.6M346.8 236.4L349.2 238.4M344.2 242L347.2 244M348.2 244.8L352.6 247.7M348 250.6L351.5 253.6M350.4 257L351.2 262M351 264L353.3 269.4M354.2 270.4L357.3 273M355 277.7L358 279.6M358.8 280.6L360.4 284.8M359 290.4L363.6 290.6M360.4 295L364.2 297.3M363.8 300.5L364.6 305M364.8 308L365.4 313" fill="none" stroke-width="1.5"/>
<path d="M365.4 319L366.2 329.6L370 334L376.6 340L380 338L384 345" fill="none" stroke-width="1.2" stroke-dasharray="2.4 2"/>
<path d="M332.6 290L334.6 268L336.4 276" fill="none" stroke-width="1" stroke-dasharray="2.4 2.4"/>
<path d="M404.5 337.5V327.2H406.2V337.5M407.5 337.5V327.2H409.2V337.5M410.6 337.5V327.2H412.3V337.5M413.2 337.5V327.2H414.4V337.5M416.6 337.5V327.2H418.4V337.5M419.2 337.5V327.2H421V337.5M426 348.6V338.4M427.45 348.6V338.4M428.9 348.6V338.4M430.35 348.6V338.4M431.8 348.6V338.4M433.25 348.6V338.4M434.7 348.6V338.4M436.15 348.6V338.4M437.6 348.6V338.4M439.05 348.6V338.4M440.5 348.6V338.4M441.7 338.4V342.7H447V348.6M448.6 348.6V338.4H453V348.6M450 348.6V338.4M451.5 348.6V338.4M457 348.6V342.3H461V348.6M464 348.6V342.3H466V338.5V348.6M470 348.6V342.3H472V348.6M510.4 349V333H512.6V349M511.5 333V315.8" fill="none" stroke-width="1.05"/>
<path d="M392.5 341H424.5" fill="none" stroke-width="1.4" stroke-dasharray="3.4 2.6"/>
<path d="M398 346H424M456 345H470M458 340.4H469" fill="none" stroke-width="1.2" stroke-dasharray="2 3.6"/>
<path d="M497.2 339.6V342.2M497.2 346V349" fill="none" stroke-width="1.3"/>
</g>
<g transform="rotate(-0.18 277 566)">
<rect x="40.4" y="424.9" width="473.8" height="282.8" fill="none" stroke-width="0.95"/>
<rect x="103.2" y="448.3" width="395" height="208.7" fill="none" stroke-width="0.9"/>
<rect x="103.2" y="461.4" width="360" height="27.2" fill="#000" stroke="none"/>
<line x1="463.2" y1="475" x2="466.44" y2="475" stroke-width="0.9"/>
<line x1="466.44" y1="470.4" x2="466.44" y2="479.6" stroke-width="0.9"/>
<text stroke="#000" stroke-width="0.4" stroke-linejoin="round" x="57" y="479.6" font-size="11.6" text-anchor="start" font-weight="bold" textLength="36" lengthAdjust="spacingAndGlyphs">B cells</text>
<rect x="103.2" y="513" width="216" height="28" fill="#000" stroke="none"/>
<line x1="319.2" y1="527" x2="335.04" y2="527" stroke-width="0.9"/>
<line x1="335.04" y1="522.4" x2="335.04" y2="531.6" stroke-width="0.9"/>
<text stroke="#000" stroke-width="0.4" stroke-linejoin="round" x="47" y="531.8" font-size="11.6" text-anchor="start" font-weight="bold" textLength="46" lengthAdjust="spacingAndGlyphs">NK cells</text>
<rect x="103.2" y="565.6" width="144.9" height="27.3" fill="#000" stroke="none"/>
<line x1="248.1" y1="579.25" x2="253.5" y2="579.25" stroke-width="0.9"/>
<line x1="253.5" y1="574.65" x2="253.5" y2="583.85" stroke-width="0.9"/>
<text stroke="#000" stroke-width="0.4" stroke-linejoin="round" x="51" y="582.6" font-size="11.6" text-anchor="start" font-weight="bold" textLength="42" lengthAdjust="spacingAndGlyphs">T8 cells</text>
<rect x="103.2" y="617.2" width="54.72" height="27.6" fill="#000" stroke="none"/>
<line x1="157.92" y1="631" x2="159.72" y2="631" stroke-width="0.9"/>
<line x1="159.72" y1="626.4" x2="159.72" y2="635.6" stroke-width="0.9"/>
<text stroke="#000" stroke-width="0.4" stroke-linejoin="round" x="51" y="634.8" font-size="11.6" text-anchor="start" font-weight="bold" textLength="42" lengthAdjust="spacingAndGlyphs">T4 cells</text>
<line x1="99.4" y1="501.8" x2="107.4" y2="501.8" stroke-width="0.9"/>
<line x1="99.4" y1="552.6" x2="107.4" y2="552.6" stroke-width="0.9"/>
<line x1="99.4" y1="604.6" x2="107.4" y2="604.6" stroke-width="0.9"/>
<line x1="103.2" y1="653" x2="103.2" y2="662.2" stroke-width="0.9"/>
<text stroke="#000" stroke-width="0.35" stroke-linejoin="round" x="103.2" y="676.2" font-size="10" text-anchor="middle" font-weight="bold" textLength="5.9" lengthAdjust="spacingAndGlyphs">0</text>
<line x1="175.2" y1="653" x2="175.2" y2="662.2" stroke-width="0.9"/>
<text stroke="#000" stroke-width="0.35" stroke-linejoin="round" x="175.2" y="676.2" font-size="10" text-anchor="middle" font-weight="bold" textLength="17.3" lengthAdjust="spacingAndGlyphs">400</text>
<line x1="247.2" y1="653" x2="247.2" y2="662.2" stroke-width="0.9"/>
<text stroke="#000" stroke-width="0.35" stroke-linejoin="round" x="247.2" y="676.2" font-size="10" text-anchor="middle" font-weight="bold" textLength="17.3" lengthAdjust="spacingAndGlyphs">800</text>
<line x1="319.2" y1="653" x2="319.2" y2="662.2" stroke-width="0.9"/>
<text stroke="#000" stroke-width="0.35" stroke-linejoin="round" x="319.2" y="676.2" font-size="10" text-anchor="middle" font-weight="bold" textLength="22.3" lengthAdjust="spacingAndGlyphs">1200</text>
<line x1="391.2" y1="653" x2="391.2" y2="662.2" stroke-width="0.9"/>
<text stroke="#000" stroke-width="0.35" stroke-linejoin="round" x="391.2" y="676.2" font-size="10" text-anchor="middle" font-weight="bold" textLength="22.3" lengthAdjust="spacingAndGlyphs">1600</text>
<line x1="463.2" y1="653" x2="463.2" y2="662.2" stroke-width="0.9"/>
<text stroke="#000" stroke-width="0.35" stroke-linejoin="round" x="463.2" y="676.2" font-size="10" text-anchor="middle" font-weight="bold" textLength="22.3" lengthAdjust="spacingAndGlyphs">2000</text>
<text stroke="#000" stroke-width="0.4" stroke-linejoin="round" x="222" y="697.2" font-size="10.4" text-anchor="start" font-weight="bold" textLength="125" lengthAdjust="spacingAndGlyphs">CB2 receptor expression</text>
</g>
</svg>
</body>
</html>
